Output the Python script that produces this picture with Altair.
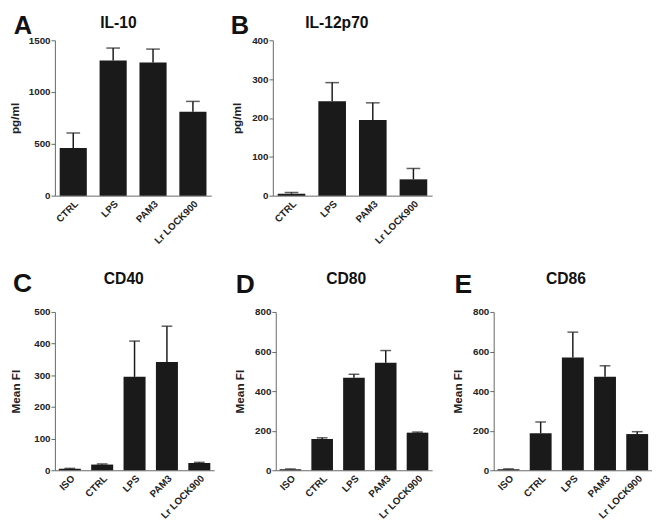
import altair as alt
import pandas as pd

# ---- data ----
cats4 = ["CTRL", "LPS", "PAM3", "Lr LOCK900"]
cats5 = ["ISO", "CTRL", "LPS", "PAM3", "Lr LOCK900"]

il10_mean = [460, 1305, 1285, 810]
il10_err = [145, 120, 130, 100]

il12_mean = [5, 243, 195, 42]
il12_err = [3, 48, 44, 28]

cd40_mean = [5, 18, 295, 342, 23]
cd40_err = [1, 2, 113, 113, 2]

cd80_mean = [5, 158, 468, 543, 190]
cd80_err = [2, 6, 17, 62, 3]

cd86_mean = [5, 187, 570, 473, 183]
cd86_err = [2, 57, 128, 55, 12]

FONT = "Liberation Sans"
INK = "#1a1a1a"


def panel(letter, title, cats, means, errs, ymax, step, ytitle, width, height,
          title_dx, title_y, letter_x, letter_y, cap, tpad, lsize):
    df = pd.DataFrame({
        "cat": cats,
        "mean": means,
        "top": [m + e for m, e in zip(means, errs)],
    })
    xscale = alt.Scale(paddingInner=0.32, paddingOuter=0.12)
    x = alt.X("cat:N", sort=cats, title=None, scale=xscale,
              axis=alt.Axis(labelAngle=-45, ticks=False, labelPadding=3,
                            labelFontSize=10, labelFontWeight="bold",
                            labelColor="#222", domainColor="#666"))
    y = alt.Y("mean:Q", title=ytitle,
              scale=alt.Scale(domain=[0, ymax], nice=False),
              axis=alt.Axis(values=list(range(0, ymax + 1, step)), grid=False,
                            tickCount=20,
                            format="d", labelOverlap=False,
                            tickSize=4, tickColor="#666", domainColor="#666",
                            labelFontSize=10, labelFontWeight="bold",
                            labelColor="#222", labelPadding=1,
                            titleFontSize=12, titleFontWeight="bold",
                            titleColor="#222", titlePadding=tpad))
    base = alt.Chart(df)
    bars = base.mark_bar(color=INK).encode(x=x, y=y)
    rule = base.mark_rule(color=INK, strokeWidth=1.5).encode(
        x=alt.X("cat:N", sort=cats), y="mean:Q", y2="top:Q")
    caps = base.mark_tick(color=INK, size=cap, thickness=1.5).encode(
        x=alt.X("cat:N", sort=cats), y="top:Q")
    lab = alt.Chart(pd.DataFrame({"t": [letter]})).mark_text(
        font=FONT, fontSize=lsize, fontWeight="bold", color="#111",
        align="left", baseline="alphabetic").encode(
        text="t:N", x=alt.value(letter_x), y=alt.value(letter_y))
    ttl = alt.Chart(pd.DataFrame({"t": [title]})).mark_text(
        font=FONT, fontSize=16, fontWeight="bold", color="#111",
        align="center", baseline="alphabetic").encode(
        text="t:N", x=alt.value(width / 2 + title_dx), y=alt.value(title_y))
    return alt.layer(bars, rule, caps, lab, ttl).properties(
        width=width, height=height)


pA = panel("A", "IL-10", cats4, il10_mean, il10_err, 1500, 500, "pg/ml",
           160, 159, -15, -13, -42, -6, 14, 7, 26)
pB = panel("B", "IL-12p70", cats4, il12_mean, il12_err, 400, 100, "pg/ml",
           163, 159, -16, -13, -43, -6, 14, 8, 26)
pC = panel("C", "CD40", cats5, cd40_mean, cd40_err, 500, 100, "Mean FI",
           163, 162, -11, -29, -43, -20, 11, 12, 27)
pD = panel("D", "CD80", cats5, cd80_mean, cd80_err, 800, 200, "Mean FI",
           160, 162, -8, -29, -41, -19, 11, 8, 27)
pE = panel("E", "CD86", cats5, cd86_mean, cd86_err, 800, 200, "Mean FI",
           162, 162, -7, -29, -40, -19, 11, 8, 27)

top = alt.hconcat(pA, pB, spacing=20)
bottom = alt.hconcat(pC, pD, pE, spacing=20)

chart = alt.vconcat(top, bottom, spacing=26).properties(
    padding=0
).configure(font=FONT, background="white").configure_view(stroke=None)

chart.save("out.html", embed_options={"renderer": "svg", "actions": False})
